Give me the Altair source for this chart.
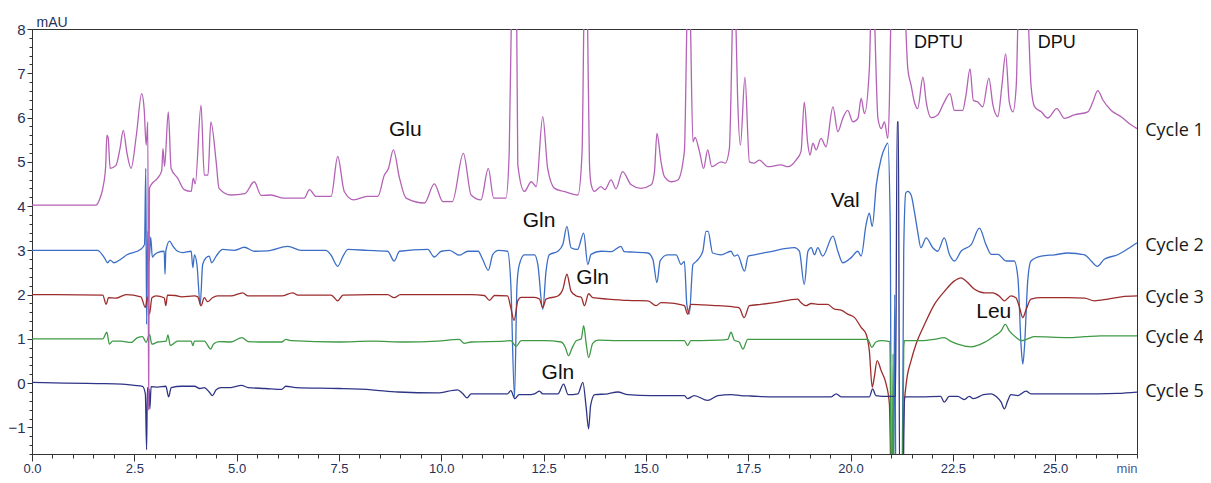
import altair as alt
import pandas as pd

# ---------------- data (time [min], absorbance [mAU]) ----------------
cycle1 = [(0.0,4.02),(1.56,4.02),(1.65,4.15),(1.73,4.4),(1.8,4.9),(1.83,5.6),(1.86,5.55),(1.91,4.85),
(2.05,4.92),(2.15,5.3),(2.23,5.71),(2.32,5.2),(2.42,4.85),(2.55,5.6),(2.68,6.54),(2.74,6.2),(2.79,5.38),
(2.83,5.9),(2.85,-0.6),(2.87,4.4),(2.91,4.48),(3.07,4.63),(3.17,4.8),(3.2,5.3),(3.24,4.9),(3.33,6.13),
(3.4,4.85),(3.56,4.63),(3.72,4.37),(3.89,4.33),(3.94,4.63),(3.99,4.5),(4.13,6.28),(4.21,4.7),(4.3,4.7),
(4.37,5.9),(4.5,5.0),(4.57,4.4),(4.86,4.25),(5.2,4.28),(5.43,4.55),(5.6,4.24),(5.84,4.25),(6.15,4.18),
(6.65,4.18),(6.78,4.37),(6.94,4.22),(7.31,4.22),(7.47,5.12),(7.63,4.33),(7.86,4.14),(8.19,4.22),
(8.45,4.22),(8.61,4.7),(8.71,4.85),(8.83,5.27),(8.98,4.63),(9.14,4.18),(9.59,4.07),(9.83,4.5),
(10.04,4.1),(10.27,4.1),(10.54,5.19),(10.73,4.25),(10.97,4.14),(11.15,4.85),(11.28,4.18),(11.58,4.18),
(11.66,5.2),(11.72,8.6),(11.78,9.5),(11.84,8.6),(11.87,4.93),(12.03,4.33),(12.2,4.55),(12.32,4.44),
(12.48,6.02),(12.6,4.85),(12.77,4.4),(13.0,4.33),(13.34,4.25),(13.44,5.2),(13.49,8.5),(13.53,9.5),
(13.57,8.5),(13.62,5.0),(13.66,4.5),(13.74,4.33),(13.9,4.44),(14.0,4.37),(14.15,4.59),(14.27,4.39),
(14.43,4.78),(14.64,4.48),(14.88,4.4),(15.13,4.48),(15.21,4.78),(15.27,5.64),(15.37,5.0),(15.45,4.67),
(15.62,4.55),(15.78,4.59),(15.94,5.23),(16.01,8.5),(16.04,9.3),(16.08,8.5),(16.15,5.45),(16.2,5.55),
(16.31,5.23),(16.41,4.85),(16.51,5.27),(16.61,4.89),(16.84,5.0),(16.94,4.97),(17.04,5.3),(17.09,7.0),
(17.12,8.5),(17.15,9.3),(17.19,8.5),(17.24,6.5),(17.31,5.38),(17.42,6.91),(17.53,5.0),(17.65,4.97),
(17.77,5.04),(17.98,4.89),(18.3,4.93),(18.47,4.89),(18.67,5.04),(18.79,5.23),(18.87,6.35),(18.95,5.45),
(19.01,5.15),(19.08,5.42),(19.16,5.27),(19.28,5.53),(19.4,5.34),(19.57,6.24),(19.69,5.68),(19.81,5.98),
(19.93,6.16),(20.06,5.9),(20.18,5.98),(20.26,6.43),(20.34,6.09),(20.46,7.1),(20.5,8.5),(20.54,9.3),
(20.58,8.5),(20.62,7.18),(20.67,5.98),(20.75,5.75),(20.83,5.9),(20.91,5.53),(20.95,6.35),(20.99,8.5),
(21.1,10.0),(21.25,10.0),(21.33,8.5),(21.4,7.1),(21.48,6.73),(21.56,6.35),(21.64,6.2),(21.77,6.91),
(21.85,6.35),(21.97,6.0),(22.13,6.06),(22.29,6.35),(22.43,6.54),(22.54,6.16),(22.74,6.16),(22.82,6.5),
(22.92,7.1),(23.0,6.39),(23.11,6.35),(23.23,6.24),(23.38,6.89),(23.48,6.28),(23.6,6.02),(23.7,6.73),
(23.79,7.44),(23.88,6.35),(23.97,6.13),(24.05,6.73),(24.1,8.5),(24.2,9.5),(24.33,8.5),(24.41,6.73),
(24.5,6.24),(24.66,6.13),(24.82,5.99),(25.04,6.2),(25.23,5.98),(25.47,6.06),(25.8,6.13),(25.92,6.35),
(26.04,6.61),(26.17,6.39),(26.37,6.16),(26.61,6.02),(26.86,5.83),(27.0,5.75)]

cycle2 = [(0.0,3.0),(1.6,3.0),(1.77,2.83),(1.85,2.72),(1.91,2.78),(2.0,2.72),(2.17,2.8),(2.32,2.9),
(2.65,3.02),(2.75,3.13),(2.78,4.85),(2.8,1.33),(2.83,3.43),(2.86,2.75),(2.9,3.3),(2.94,2.85),(2.99,2.9),
(3.07,2.95),(3.23,2.98),(3.25,2.46),(3.27,2.98),(3.36,3.21),(3.44,3.1),(3.56,2.98),(3.68,2.95),
(3.89,2.98),(3.93,2.61),(3.97,2.9),(4.03,2.68),(4.11,1.78),(4.17,2.68),(4.25,2.83),(4.33,2.87),
(4.39,2.72),(4.5,2.87),(4.66,3.02),(4.94,3.0),(5.19,3.07),(5.43,2.98),(5.76,2.99),(6.25,3.09),
(6.58,3.0),(7.18,3.0),(7.3,2.9),(7.47,2.64),(7.6,2.87),(7.72,3.02),(8.2,3.0),(8.69,2.98),(8.85,2.76),
(8.98,2.98),(9.67,3.02),(9.83,2.85),(10.0,2.98),(10.2,3.0),(10.44,2.89),(10.65,2.98),(10.9,2.98),
(11.01,2.8),(11.15,2.55),(11.26,2.91),(11.4,3.0),(11.62,2.98),(11.7,2.23),(11.79,-0.31),(11.85,2.2),
(11.9,2.65),(12.03,2.9),(12.28,2.9),(12.36,2.68),(12.48,1.67),(12.56,2.53),(12.64,2.9),(12.85,2.98),
(12.97,3.13),(13.07,3.54),(13.17,3.06),(13.33,3.02),(13.48,3.39),(13.58,2.68),(13.66,2.91),(13.9,2.98),
(14.15,2.97),(14.39,3.09),(14.47,2.97),(14.72,2.96),(15.05,2.94),(15.17,2.8),(15.27,2.27),(15.35,2.77),
(15.53,2.9),(15.74,2.9),(15.86,2.68),(15.94,2.75),(16.0,1.78),(16.06,1.56),(16.15,2.68),(16.23,2.75),
(16.39,2.98),(16.47,3.43),(16.52,3.43),(16.63,2.94),(16.84,2.9),(17.08,2.98),(17.16,2.87),(17.24,2.9),
(17.41,2.53),(17.5,2.87),(17.65,2.9),(17.98,2.96),(18.63,3.06),(18.75,2.98),(18.87,2.23),(18.96,2.98),
(19.04,3.06),(19.12,2.9),(19.2,3.06),(19.32,2.87),(19.57,3.32),(19.69,2.98),(19.81,2.72),(20.01,2.83),
(20.18,2.98),(20.26,2.87),(20.38,3.58),(20.46,3.84),(20.53,3.54),(20.63,4.48),(20.75,5.08),(20.85,5.34),
(20.91,5.42),(20.97,3.6),(21.0,-2.5),(21.05,-2.5),(21.08,2.0),(21.11,-2.5),(21.26,-2.5),(21.3,3.0),
(21.35,4.3),(21.4,4.33),(21.48,4.25),(21.56,3.88),(21.64,3.43),(21.72,3.06),(21.85,3.28),(22.01,3.06),
(22.13,2.98),(22.29,3.28),(22.42,2.9),(22.54,2.76),(22.7,2.98),(22.95,3.13),(23.15,3.5),(23.31,3.13),
(23.44,2.91),(23.6,2.91),(23.8,2.76),(24.0,2.76),(24.09,2.38),(24.17,0.81),(24.21,0.43),(24.25,0.81),
(24.33,2.31),(24.41,2.76),(24.66,2.87),(24.99,2.9),(25.31,2.94),(25.72,2.9),(25.88,2.76),(26.03,2.64),
(26.2,2.8),(26.53,2.9),(26.82,3.06),(27.0,3.17)]

cycle3 = [(0.0,2.0),(1.73,1.99),(1.81,1.78),(1.87,1.93),(2.05,1.92),(2.3,2.0),(2.66,1.95),(2.77,1.71),
(2.82,1.95),(2.87,1.56),(2.93,1.93),(3.03,1.97),(3.23,1.93),(3.27,1.75),(3.31,1.99),(3.5,1.98),
(3.66,1.95),(3.97,1.97),(4.05,1.95),(4.13,1.75),(4.21,1.93),(4.29,1.84),(4.41,1.93),(4.53,1.97),
(4.86,1.97),(5.15,2.04),(5.28,1.97),(5.62,1.97),(6.1,1.97),(6.37,2.04),(6.5,1.99),(7.31,1.99),
(7.47,1.86),(7.6,1.99),(8.29,2.0),(8.69,2.0),(8.85,1.93),(9.0,2.0),(10.06,2.0),(10.73,2.0),(11.05,1.98),
(11.18,1.87),(11.3,1.98),(11.62,1.97),(11.7,1.7),(11.78,1.42),(11.87,1.86),(11.95,1.94),(12.28,1.94),
(12.4,1.9),(12.48,1.71),(12.56,1.9),(12.85,1.97),(12.97,2.12),(13.07,2.46),(13.17,2.08),(13.3,1.97),
(13.42,1.94),(13.5,1.75),(13.6,2.02),(13.7,1.93),(14.07,1.9),(14.56,1.87),(15.05,1.86),(15.25,1.75),
(15.37,1.82),(15.7,1.8),(15.94,1.75),(16.02,1.56),(16.1,1.78),(16.35,1.77),(16.76,1.75),(17.16,1.72),
(17.28,1.7),(17.4,1.48),(17.53,1.75),(17.81,1.78),(18.14,1.82),(18.71,1.9),(18.79,1.82),(18.91,1.75),
(19.04,1.8),(19.2,1.78),(19.44,1.78),(19.61,1.67),(19.77,1.65),(19.93,1.56),(20.1,1.48),(20.26,1.26),
(20.38,1.11),(20.46,0.73),(20.53,-0.09),(20.58,0.13),(20.65,0.51),(20.75,0.28),(20.87,-0.02),
(20.95,-0.47),(21.0,-2.5),(21.27,-2.5),(21.3,-0.69),(21.36,-0.02),(21.48,0.51),(21.6,0.88),(21.81,1.33),
(22.05,1.78),(22.3,2.08),(22.54,2.31),(22.7,2.38),(22.82,2.31),(23.03,2.12),(23.27,2.04),(23.48,2.04),
(23.63,1.97),(23.76,1.86),(23.92,1.97),(24.04,1.93),(24.13,1.71),(24.21,1.48),(24.29,1.66),(24.41,1.9),
(24.66,1.93),(25.31,1.93),(25.72,1.92),(25.96,1.86),(26.29,1.9),(26.62,1.95),(27.0,1.97)]

cycle4 = [(0.0,1.0),(0.8,1.0),(1.73,1.0),(1.83,1.15),(1.89,0.88),(1.97,0.95),(2.17,0.95),(2.42,0.92),
(2.58,1.03),(2.7,1.05),(2.79,0.92),(2.87,1.1),(2.93,0.88),(3.07,0.93),(3.28,0.95),(3.32,1.09),
(3.38,0.85),(3.56,0.95),(3.89,0.95),(3.93,0.85),(3.97,0.95),(4.21,0.95),(4.37,0.77),(4.43,0.88),
(4.57,0.94),(4.86,0.93),(5.13,1.03),(5.28,0.94),(5.7,0.93),(6.1,0.93),(6.2,0.99),(6.35,0.96),
(7.47,0.93),(8.3,0.95),(9.1,0.93),(9.9,0.95),(10.44,0.99),(10.56,0.9),(10.73,0.93),(11.54,0.95),
(11.7,0.96),(11.83,0.83),(11.95,0.96),(12.28,0.96),(12.52,0.96),(12.93,0.93),(13.03,0.81),(13.11,0.62),
(13.19,0.78),(13.3,0.96),(13.42,1.0),(13.48,1.3),(13.54,0.9),(13.6,0.58),(13.7,0.9),(13.83,0.97),
(14.31,0.96),(15.13,0.96),(15.94,0.96),(16.02,0.85),(16.1,0.96),(16.35,0.96),(16.76,0.97),(17.0,0.99),
(17.08,1.15),(17.16,0.97),(17.28,0.93),(17.37,0.77),(17.49,0.99),(18.96,0.99),(20.42,0.99),(20.52,0.81),
(20.62,0.93),(20.75,0.96),(20.96,0.94),(21.0,-2.5),(21.02,-2.5),(21.04,0.66),(21.06,-2.5),(21.27,-2.5),
(21.3,0.8),(21.32,0.96),(21.72,0.96),(22.05,0.99),(22.29,1.03),(22.42,0.96),(22.62,0.88),(22.95,0.82),
(23.27,0.92),(23.52,1.07),(23.68,1.18),(23.78,1.33),(23.88,1.18),(24.05,1.03),(24.17,0.96),(24.33,1.0),
(24.49,1.05),(25.31,1.03),(25.72,1.05),(26.12,1.07),(27.0,1.07)]

cycle5 = [(0.0,0.02),(0.8,0.0),(1.6,-0.01),(2.2,-0.02),(2.5,-0.05),(2.7,-0.07),(2.77,-0.24),(2.8,-1.5),
(2.82,-0.1),(2.86,-0.15),(2.88,-0.58),(2.91,-0.08),(3.07,-0.09),(3.27,-0.07),(3.34,-0.31),(3.4,-0.1),
(3.66,-0.07),(3.97,-0.07),(4.1,-0.12),(4.21,-0.1),(4.33,-0.2),(4.41,-0.28),(4.5,-0.15),(4.62,-0.1),
(4.86,-0.1),(5.12,-0.05),(5.28,-0.1),(5.7,-0.12),(6.1,-0.14),(6.2,-0.07),(6.45,-0.1),(7.5,-0.12),
(8.3,-0.15),(8.94,-0.2),(9.9,-0.22),(10.4,-0.15),(10.52,-0.23),(10.63,-0.33),(10.73,-0.24),(11.14,-0.24),
(11.62,-0.24),(11.7,-0.17),(11.8,-0.35),(11.9,-0.26),(12.11,-0.26),(12.28,-0.24),(12.4,-0.18),
(12.48,-0.24),(12.85,-0.24),(12.99,-0.02),(13.1,-0.26),(13.34,-0.24),(13.46,0.02),(13.54,-0.54),
(13.6,-1.03),(13.65,-0.5),(13.75,-0.26),(14.07,-0.24),(14.31,-0.2),(14.56,-0.26),(15.13,-0.28),
(15.94,-0.28),(16.02,-0.35),(16.18,-0.28),(16.51,-0.39),(16.76,-0.28),(17.08,-0.26),(17.32,-0.28),
(17.57,-0.29),(18.14,-0.31),(18.79,-0.31),(19.53,-0.31),(19.65,-0.24),(19.77,-0.31),(20.46,-0.31),
(20.54,-0.13),(20.62,-0.28),(20.91,-0.3),(21.1,-0.3),(21.14,5.9),(21.17,5.9),(21.2,-2.5),(21.28,-2.5),
(21.32,-0.31),(21.72,-0.31),(22.2,-0.3),(22.29,-0.43),(22.41,-0.3),(22.62,-0.3),(22.78,-0.37),
(22.9,-0.3),(23.0,-0.35),(23.25,-0.26),(23.44,-0.24),(23.56,-0.3),(23.68,-0.43),(23.76,-0.58),
(23.84,-0.4),(23.92,-0.26),(24.09,-0.28),(24.29,-0.18),(24.41,-0.24),(25.23,-0.24),(26.04,-0.24),
(26.53,-0.23),(27.0,-0.2)]

series_names = ["Cycle 1", "Cycle 2", "Cycle 3", "Cycle 4", "Cycle 5"]
series_colors = ["#b462b6", "#3c6ec6", "#9c2c2c", "#3f9a46", "#2f3586"]
label_t = [27.2, 27.2, 27.2, 27.2, 27.2]
label_v = [5.7, 3.1, 1.93, 1.03, -0.2]

peak_text = ["Glu", "Gln", "Gln", "Gln", "Val", "DPTU", "DPU", "Leu"]
peak_t = [9.12, 12.39, 13.7, 12.85, 19.87, 22.15, 25.04, 23.5]
peak_v = [5.72, 3.67, 2.37, 0.23, 4.12, 7.69, 7.69, 1.6]
peak_size = [21, 21, 21, 21, 21, 18, 18, 21]

x_major = [0.0, 2.5, 5.0, 7.5, 10.0, 12.5, 15.0, 17.5, 20.0, 22.5, 25.0]
x_minor = [i * 0.5 for i in range(55)]
y_major = [-1, 0, 1, 2, 3, 4, 5, 6, 7, 8]
y_minor = [round(-1.6 + i * 0.2, 1) for i in range(49)]

# ---------------- chart ----------------
W, H = 1105, 425
AX = "#333333"
LAB = "#26305a"
NUM_FONT = "Liberation Sans Narrow, Liberation Sans, Arial"

xscale = alt.Scale(domain=[0, 27], nice=False, zero=False)
yscale = alt.Scale(domain=[-1.6, 8], nice=False, zero=False)

axis_x_main = alt.Axis(values=x_major, format=".1f", orient="bottom", tickSize=7, tickColor=AX,
                       domainColor=AX, labelFont=NUM_FONT, labelFontSize=13, labelColor=LAB,
                       labelPadding=1, labelFlush=False, labelOverlap=False, grid=False,
                       title="min", titleX=W, titleY=18, titleAlign="right",
                       titleBaseline="alphabetic", titleFont=NUM_FONT, titleFontSize=13,
                       titleFontWeight="normal", titleColor="#4a5a9a")
axis_y_main = alt.Axis(values=y_major, format="d", orient="left", tickSize=5, tickColor=AX,
                       domainColor=AX, labelFont=NUM_FONT, labelFontSize=15, labelColor=LAB,
                       labelPadding=2, labelOverlap=False, grid=False, title="mAU",
                       titleAngle=0, titleX=4, titleY=-3, titleAlign="left",
                       titleBaseline="alphabetic", titleFont=NUM_FONT, titleFontSize=14,
                       titleFontWeight="normal", titleColor=LAB)
axis_x_minor = alt.Axis(values=x_minor, orient="bottom", tickSize=4, tickColor=AX, domain=False,
                        labels=False, grid=False, title="")
axis_y_minor = alt.Axis(values=y_minor, orient="left", tickSize=3, tickColor=AX, domain=False,
                        labels=False, grid=False, title="")


def trace(points, color, with_axes=False):
    df = pd.DataFrame(points, columns=["t", "v"])
    return alt.Chart(df).mark_line(color=color, strokeWidth=1.3, clip=True,
                                   interpolate="monotone").encode(
        x=alt.X("t:Q", scale=xscale, axis=axis_x_main if with_axes else None),
        y=alt.Y("v:Q", scale=yscale, axis=axis_y_main if with_axes else None),
    )


all_series = [cycle1, cycle2, cycle3, cycle4, cycle5]
draw_order = [1, 2, 3, 4, 0]
layers = []
for k, idx in enumerate(draw_order):
    layers.append(trace(all_series[idx], series_colors[idx], with_axes=(k == 0)))

peaks_df = pd.DataFrame({"t": peak_t, "v": peak_v, "label": peak_text, "size": peak_size})
peak_layer = alt.Chart(peaks_df).mark_text(font="Liberation Sans, Arial", color="#111111",
                                           align="center", baseline="middle").encode(
    x=alt.X("t:Q", scale=xscale, axis=axis_x_minor),
    y=alt.Y("v:Q", scale=yscale, axis=axis_y_minor),
    text="label:N",
    size=alt.Size("size:Q", scale=None, legend=None),
)

labels_df = pd.DataFrame({"t": label_t, "v": label_v, "label": series_names})
label_layer = alt.Chart(labels_df).mark_text(font="Open Sans, Noto Sans", fontSize=18,
                                             color="#1a1a1a", align="left",
                                             baseline="middle").encode(
    x=alt.X("t:Q", scale=xscale, axis=None),
    y=alt.Y("v:Q", scale=yscale, axis=None),
    text="label:N",
)

chart = alt.layer(*layers, peak_layer, label_layer).resolve_axis(
    x="independent", y="independent"
).properties(
    width=W, height=H,
    autosize=alt.AutoSizeParams(type="none"),
    padding={"left": 24, "top": 21, "right": 66, "bottom": 21},
).configure_view(stroke=AX, strokeWidth=1)

chart.save("out.html", embed_options={"renderer": "svg", "actions": False})
